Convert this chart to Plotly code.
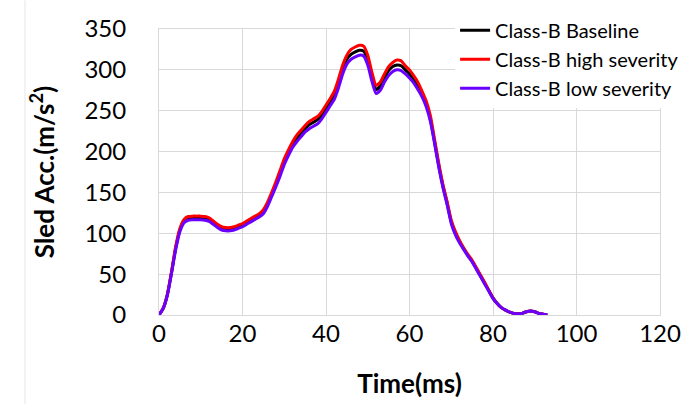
import plotly.graph_objects as go

time_ms = list(range(0, 94))

baseline = [0, 8, 25, 52, 82, 104, 115, 118, 119, 119, 119, 118.5, 117, 113, 109, 106, 105, 105, 106, 108,
            110, 113, 116, 119, 122, 127, 136, 148, 160, 174, 188, 199, 209, 216, 222, 228, 233, 236, 239, 245,
            253, 261, 269, 284, 301, 313, 319, 322, 324, 323, 312, 291, 276, 280, 290, 299, 304, 306, 305, 300,
            295, 288, 280, 270, 258, 240, 212, 183, 158, 137, 114, 100, 90, 81, 73, 66, 57, 48, 39, 30,
            21, 14, 9, 6, 3.5, 2, 1.5, 2, 4, 5, 4, 2, 1, 0]

high_sev = [0, 8, 25, 53, 84, 106, 117, 120.5, 121, 121, 121, 120.5, 119, 115, 111, 108, 107, 107, 108, 110,
            112, 115, 118, 121, 124, 129, 138, 150, 163, 177, 191, 202, 212, 220, 226, 232, 237, 240, 243, 249,
            257, 265, 274, 289, 306, 318, 325, 328, 330, 329, 318, 297, 281, 285, 295, 304, 309, 312, 311, 305,
            300, 293, 285, 274, 262, 244, 215, 186, 160, 139, 116, 102, 91, 82, 74, 67, 58, 49, 40, 30,
            21, 14, 9, 6, 3.5, 2, 1.5, 2, 4, 5, 4, 2, 1, 0]

low_sev = [0, 8, 24, 51, 80, 102, 113, 116, 116.5, 116.5, 116.5, 116, 114.5, 111, 107, 104, 103, 103, 104, 106,
           108, 111, 114, 117, 120, 124, 133, 145, 157, 170, 184, 195, 205, 212, 218, 224, 228, 231, 234, 240,
           248, 256, 264, 278, 295, 307, 313, 316, 318, 317, 306, 286, 271, 275, 285, 293, 298, 300, 299, 295,
           290, 284, 276, 267, 255, 237, 210, 181, 156, 135, 112, 98, 88, 80, 72, 65, 56, 47, 38, 29,
           20, 14, 9, 6, 3.5, 2, 1.5, 2, 4, 5, 4, 2, 1, 0]

names = ["Class-B Baseline", "Class-B high severity", "Class-B low severity"]
colors = ["#000000", "#ff0000", "#6a00ff"]
x_ticks = [0, 20, 40, 60, 80, 100, 120]
y_ticks = [0, 50, 100, 150, 200, 250, 300, 350]

fig = go.Figure()
for i, (nm, ys, c) in enumerate(zip(names, [baseline, high_sev, low_sev], colors)):
    fig.add_trace(go.Scatter(x=time_ms, y=ys, name=nm, mode="lines",
                             line=dict(color=c, width=3, shape="spline", smoothing=0.6),
                             legendgroup=f"g{i}"))

FONT = "Lato"
fig.update_layout(
    width=697, height=405,
    margin=dict(l=159, r=37, t=28, b=90),
    paper_bgcolor="white", plot_bgcolor="white",
    font=dict(family=FONT, color="black", size=25),
    showlegend=True,
    legend=dict(x=0.591, y=1.06, xanchor="left", yanchor="top",
                bgcolor="white", borderwidth=0, font=dict(size=20, family=FONT),
                tracegroupgap=3, traceorder="normal"),
    xaxis=dict(range=[0, 120], tickvals=x_ticks, showgrid=True, gridcolor="#d9d9d9", gridwidth=1,
               zeroline=False, showline=True, linecolor="#d9d9d9", mirror=True,
               tickfont=dict(size=24), ticks="", ticklabelstandoff=-3,
               title=dict(text="<b>Time(ms)</b>", font=dict(size=26), standoff=29)),
    yaxis=dict(range=[0, 350], tickvals=y_ticks, showgrid=True, gridcolor="#d9d9d9", gridwidth=1,
               zeroline=False, showline=True, linecolor="#d9d9d9", mirror=True,
               tickfont=dict(size=24), ticks="", ticklabelstandoff=27,
               title=dict(text="<b>Sled Acc.(m/s<sup>2</sup>)</b>", font=dict(size=26), standoff=22)),
)
fig.add_shape(type="line", xref="paper", yref="paper", x0=-0.2675, x1=-0.2675, y0=-0.31, y1=1.1,
              line=dict(color="#e6e6e6", width=1))

fig.write_html("out.html")
